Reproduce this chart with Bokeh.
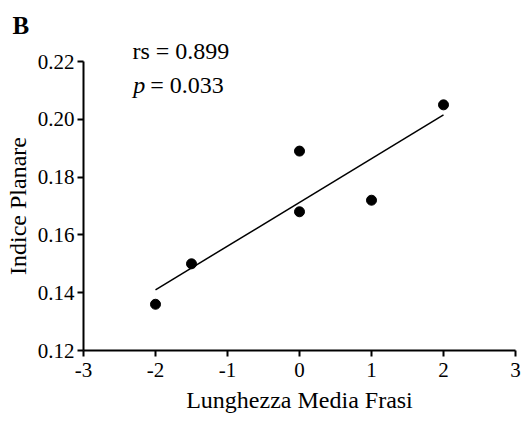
from bokeh.plotting import figure
from bokeh.models import Range1d, FixedTicker, Label, Title
from bokeh.embed import file_html
from bokeh.resources import INLINE

# data
x_vals = [-2.0, -1.5, 0.0, 0.0, 1.0, 2.0]
y_vals = [0.136, 0.150, 0.189, 0.168, 0.172, 0.205]
fit_x = [-2.0, 2.0]
fit_y = [0.141, 0.2015]
x_ticks = [-3, -2, -1, 0, 1, 2, 3]
x_tick_labels = ["-3", "-2", "-1", "0", "1", "2", "3"]
y_ticks = [0.12, 0.14, 0.16, 0.18, 0.20, 0.22]
y_tick_labels = ["0.12", "0.14", "0.16", "0.18", "0.20", "0.22"]
panel_label = "B"
rs_text = "rs = 0.899"
p_label = "p"
p_text = "= 0.033"

FONT = "Liberation Serif"

p = figure(width=526, height=421, output_backend="svg", toolbar_location=None,
           title_location=None,
           x_range=Range1d(-3, 3), y_range=Range1d(0.12, 0.22),
           min_border_left=83, min_border_right=11, min_border_bottom=71, min_border_top=0)

p.outline_line_color = None
p.grid.visible = False
p.background_fill_color = "white"
p.border_fill_color = "white"

# header lines as titles (not clipped by the frame)
p.add_layout(Title(text=rs_text, text_font=FONT, text_font_size="24px", text_font_style="normal",
                   text_color="black", align="left", offset=49, standoff=-5), "above")
p.add_layout(Title(text=panel_label, text_font=FONT, text_font_size="25px", text_font_style="bold",
                   text_color="black", align="left", offset=-71, standoff=0,
                   padding=dict(left=0, right=0, top=9, bottom=0)), "above")

for ax in (p.xaxis[0], p.yaxis[0]):
    ax.axis_line_width = 2
    ax.axis_line_color = "black"
    ax.major_tick_line_width = 2
    ax.major_tick_line_color = "black"
    ax.major_tick_out = 6
    ax.major_tick_in = 0
    ax.minor_tick_line_color = None
    ax.major_label_text_font = FONT
    ax.major_label_text_font_size = "21px"
    ax.major_label_text_color = "black"
    ax.axis_label_text_font = FONT
    ax.axis_label_text_font_size = "24px"
    ax.axis_label_text_font_style = "normal"
    ax.axis_label_text_color = "black"

p.xaxis[0].ticker = FixedTicker(ticks=x_ticks)
p.yaxis[0].ticker = FixedTicker(ticks=y_ticks)
p.xaxis[0].major_label_overrides = dict(zip(x_ticks, x_tick_labels))
p.yaxis[0].major_label_overrides = dict(zip(y_ticks, y_tick_labels))
p.xaxis[0].axis_label = "Lunghezza Media Frasi"
p.yaxis[0].axis_label = "Indice Planare"
p.xaxis[0].axis_label_standoff = 7
p.yaxis[0].axis_label_standoff = 4
p.xaxis[0].major_label_standoff = 6
p.yaxis[0].major_label_standoff = 3

p.line(fit_x, fit_y, line_color="black", line_width=1.5)
p.scatter(x_vals, y_vals, size=10, fill_color="black", line_color="black")

common = dict(text_font=FONT, text_font_size="24px", text_color="black", text_baseline="alphabetic")
p.add_layout(Label(x=-2.31, y=0.2117, text=p_label, text_font_style="italic", **common))
p.add_layout(Label(x=-2.31, y=0.2117, x_offset=17, text=p_text, **common))

open("out.html", "w").write(file_html(p, INLINE))
